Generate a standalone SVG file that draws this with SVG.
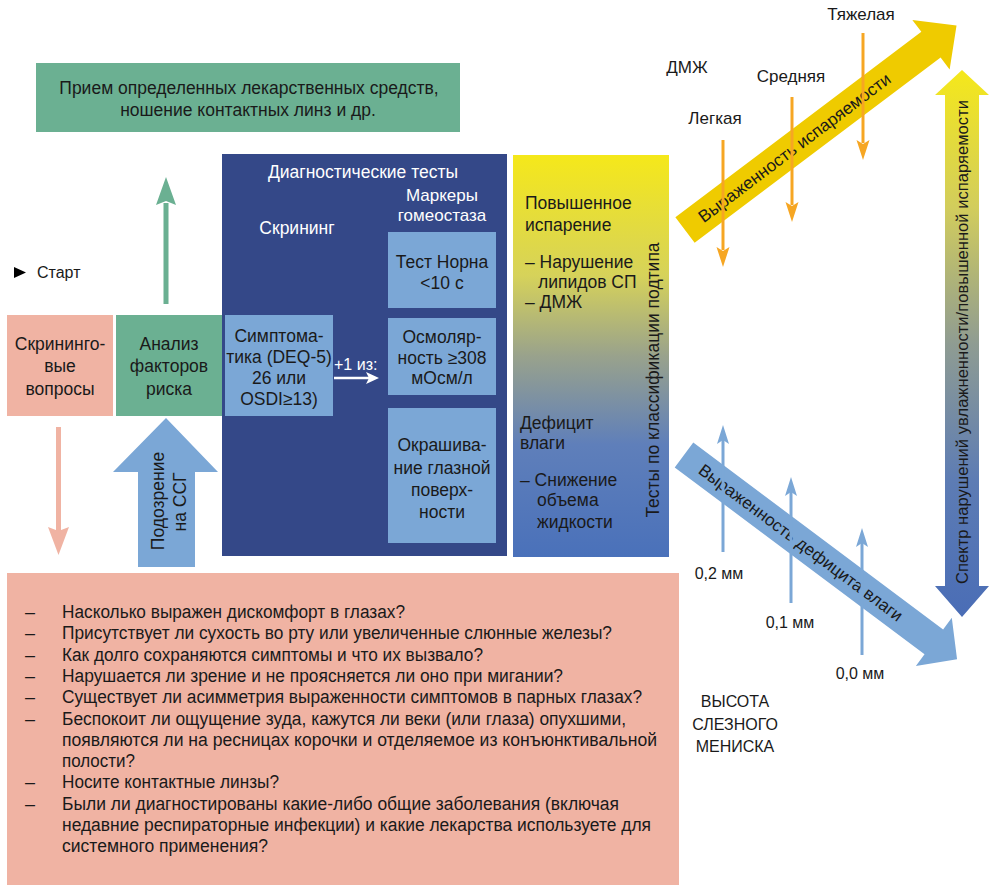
<svg xmlns="http://www.w3.org/2000/svg" width="993" height="885" viewBox="0 0 993 885">
<style>
text{font-family:"Liberation Sans",Arial,sans-serif;font-size:17.5px;fill:#1a1a1a}
.w{fill:#ffffff}
.c{text-anchor:middle}
.s{font-size:16px}
.m{font-size:17px}
.q{font-size:18px}
.green{fill:#6bb092}
.pink{fill:#f0b3a3}
.lb{fill:#7ba7d6}
.navy{fill:#344888}
.or{stroke:#f6a623;stroke-width:3;fill:none}
.orh{fill:#f6a623}
.bl{stroke:#7ba7d6;stroke-width:3;fill:none}
.blh{fill:#7ba7d6}
</style>
<defs>
<linearGradient id="gBox" x1="0" y1="0" x2="0" y2="1">
<stop offset="0" stop-color="#f5e81a"/>
<stop offset="0.3" stop-color="#d6d25a"/>
<stop offset="0.5" stop-color="#99a28c"/>
<stop offset="0.72" stop-color="#5f7fba"/>
<stop offset="1" stop-color="#4a71ba"/>
</linearGradient>
<linearGradient id="gSpec" x1="0" y1="0" x2="0" y2="1">
<stop offset="0" stop-color="#f5e81a"/>
<stop offset="0.25" stop-color="#d2cd5c"/>
<stop offset="0.5" stop-color="#8f9c92"/>
<stop offset="0.75" stop-color="#5d7cb4"/>
<stop offset="1" stop-color="#4a6db6"/>
</linearGradient>
</defs>

<g id="top-box">
<rect x="36" y="63" width="424" height="69" class="green"/>
<text x="249" y="94" class="c">Прием определенных лекарственных средств,</text>
<text x="248" y="116" class="c">ношение контактных линз и др.</text>
</g>

<g id="start">
<polygon points="14,267 26,272.5 14,278" fill="#000"/>
<text x="37" y="278" class="s">Старт</text>
</g>

<g id="screening">
<rect x="7" y="315" width="106" height="101" class="pink"/>
<text x="60" y="350" class="c">Скрининго-</text>
<text x="60" y="372" class="c">вые</text>
<text x="60" y="395" class="c">вопросы</text>
</g>

<g id="risk">
<rect x="116" y="315" width="106" height="101" class="green"/>
<text x="169" y="350" class="c">Анализ</text>
<text x="169" y="372" class="c">факторов</text>
<text x="169" y="395" class="c">риска</text>
</g>

<g id="diagnostic">
<rect x="222" y="154" width="285" height="402" class="navy"/>
<text x="363" y="178" class="c w">Диагностические тесты</text>
<text x="442" y="201" class="c w m">Маркеры</text>
<text x="442" y="221" class="c w m">гомеостаза</text>
<text x="297" y="234" class="c w">Скрининг</text>
<g id="symptoms">
<rect x="225" y="315" width="108" height="101" class="lb"/>
<text x="279" y="342" class="c">Симптома-</text>
<text x="279" y="363" class="c">тика (DEQ-5)</text>
<text x="279" y="384" class="c">26 или</text>
<text x="279" y="405" class="c">OSDI≥13)</text>
</g>
<g id="tbut">
<rect x="388" y="232" width="108" height="76" class="lb"/>
<text x="442" y="268" class="c">Тест Норна</text>
<text x="442" y="289" class="c">&lt;10 с</text>
</g>
<g id="osmolarity">
<rect x="388" y="318" width="108" height="77" class="lb"/>
<text x="442" y="343" class="c">Осмоляр-</text>
<text x="442" y="364" class="c">ность ≥308</text>
<text x="442" y="384" class="c">мОсм/л</text>
</g>
<g id="staining">
<rect x="388" y="408" width="108" height="135" class="lb"/>
<text x="442" y="451" class="c">Окрашива-</text>
<text x="442" y="474" class="c">ние глазной</text>
<text x="442" y="496" class="c">поверх-</text>
<text x="442" y="518" class="c">ности</text>
</g>
</g>

<g id="subtype">
<rect x="513" y="155" width="156" height="402" fill="url(#gBox)"/>
<text x="525" y="209">Повышенное</text>
<text x="525" y="231">испарение</text>
<text x="525" y="268">– Нарушение</text>
<text x="538" y="288">липидов СП</text>
<text x="525" y="308">– ДМЖ</text>
<text x="520" y="429">Дефицит</text>
<text x="520" y="449">влаги</text>
<text x="520" y="486">– Снижение</text>
<text x="537" y="506">объема</text>
<text x="537" y="528">жидкости</text>
<text transform="translate(659,380) rotate(-90)" class="c">Тесты по классификации подтипа</text>
</g>

<g id="evaporation-arrow" transform="translate(685,230) rotate(-37)">
<polygon points="0,-16 308,-16 308,-31 340,0 308,31 308,16 0,16" fill="#efcb00"/>
<text x="137" y="6" class="c m" textLength="236" lengthAdjust="spacingAndGlyphs">Выраженность испаряемости</text>
</g>

<g id="deficit-arrow" transform="translate(684,455) rotate(36.8)">
<polygon points="0,-15.5 312,-15.5 312,-30 341,0 312,30 312,15.5 0,15.5" class="lb"/>
<text x="146" y="6" class="c m" textLength="250" lengthAdjust="spacingAndGlyphs">Выраженность дефицита влаги</text>
</g>

<g id="spectrum-arrow">
<polygon points="962,70 989,95 979,95 979,586 989,586 962,617 935,586 945,586 945,95 935,95" fill="url(#gSpec)"/>
<text transform="translate(968,342) rotate(-90)" class="c s" textLength="484" lengthAdjust="spacingAndGlyphs">Спектр нарушений увлажненности/повышенной испаряемости</text>
</g>

<g id="labels">
<text x="687" y="73" class="c m">ДМЖ</text>
<text x="715" y="124" class="c m">Легкая</text>
<text x="791" y="82" class="c m">Средняя</text>
<text x="861" y="20" class="c m">Тяжелая</text>
<text x="719" y="579" class="c s">0,2 мм</text>
<text x="790" y="628" class="c s">0,1 мм</text>
<text x="860" y="679" class="c s">0,0 мм</text>
<text x="735" y="707" class="c s">ВЫСОТА</text>
<text x="735" y="730" class="c s">СЛЕЗНОГО</text>
<text x="735" y="752" class="c s">МЕНИСКА</text>
</g>

<g id="connectors">
<g id="to-top">
<rect x="163.5" y="203" width="5" height="101" class="green"/>
<polygon points="156,205 166,177 176,205 166,201" class="green"/>
</g>
<g id="screening-down">
<rect x="56" y="427" width="5" height="104" class="pink"/>
<polygon points="48,527 58.5,555 69,527 58.5,531" class="pink"/>
</g>
<g id="suspicion-arrow">
<polygon points="166,418 218,472 195,472 195,567 138,567 138,472 113,472" class="lb"/>
<text transform="translate(164,501) rotate(-90)" class="c" font-size="16.5">Подозрение</text>
<text transform="translate(186,502) rotate(-90)" class="c" font-size="16.5">на ССГ</text>
</g>
<g id="plus-one">
<line x1="334" y1="378" x2="370" y2="378" stroke="#fff" stroke-width="2.5"/>
<polygon points="366,372 379,378 366,384 369,378" fill="#fff"/>
<text x="334" y="370" class="w s">+1 из:</text>
</g>
<g id="severity-arrows">
<line x1="723" y1="140" x2="723" y2="250" class="or"/>
<polygon points="716.5,247 723,267 729.5,247 723,251" class="orh"/>
<line x1="792" y1="97" x2="792" y2="205" class="or"/>
<polygon points="785.5,202 792,222 798.5,202 792,206" class="orh"/>
<line x1="863" y1="33" x2="863" y2="143" class="or"/>
<polygon points="856.5,140 863,160 869.5,140 863,144" class="orh"/>
</g>
<g id="meniscus-arrows">
<line x1="723" y1="552" x2="723" y2="440" class="bl"/>
<polygon points="717,444 723,425 729,444 723,440" class="blh"/>
<line x1="791" y1="603" x2="791" y2="492" class="bl"/>
<polygon points="785,496 791,477 797,496 791,492" class="blh"/>
<line x1="862" y1="655" x2="862" y2="543" class="bl"/>
<polygon points="856,547 862,528 868,547 862,543" class="blh"/>
</g>
</g>

<g id="questions">
<rect x="7" y="573" width="672" height="312" class="pink"/>
<text x="25" y="618" class="q">–</text><text x="62" y="618" class="q" textLength="343" lengthAdjust="spacingAndGlyphs">Насколько выражен дискомфорт в глазах?</text>
<text x="25" y="639.3" class="q">–</text><text x="62" y="639.3" class="q" textLength="550" lengthAdjust="spacingAndGlyphs">Присутствует ли сухость во рту или увеличенные слюнные железы?</text>
<text x="25" y="660.6" class="q">–</text><text x="62" y="660.6" class="q" textLength="421" lengthAdjust="spacingAndGlyphs">Как долго сохраняются симптомы и что их вызвало?</text>
<text x="25" y="681.9" class="q">–</text><text x="62" y="681.9" class="q" textLength="501" lengthAdjust="spacingAndGlyphs">Нарушается ли зрение и не проясняется ли оно при мигании?</text>
<text x="25" y="703.2" class="q">–</text><text x="62" y="703.2" class="q" textLength="580" lengthAdjust="spacingAndGlyphs">Существует ли асимметрия выраженности симптомов в парных глазах?</text>
<text x="25" y="724.5" class="q">–</text><text x="62" y="724.5" class="q" textLength="564" lengthAdjust="spacingAndGlyphs">Беспокоит ли ощущение зуда, кажутся ли веки (или глаза) опухшими,</text>
<text x="62" y="745.8" class="q" textLength="595" lengthAdjust="spacingAndGlyphs">появляются ли на ресницах корочки и отделяемое из конъюнктивальной</text>
<text x="62" y="767.1" class="q" textLength="73" lengthAdjust="spacingAndGlyphs">полости?</text>
<text x="25" y="788.4" class="q">–</text><text x="62" y="788.4" class="q" textLength="217" lengthAdjust="spacingAndGlyphs">Носите контактные линзы?</text>
<text x="25" y="809.7" class="q">–</text><text x="62" y="809.7" class="q" textLength="557" lengthAdjust="spacingAndGlyphs">Были ли диагностированы какие-либо общие заболевания (включая</text>
<text x="62" y="831" class="q" textLength="589" lengthAdjust="spacingAndGlyphs">недавние респираторные инфекции) и какие лекарства используете для</text>
<text x="62" y="852.3" class="q" textLength="206" lengthAdjust="spacingAndGlyphs">системного применения?</text>
</g>
</svg>
